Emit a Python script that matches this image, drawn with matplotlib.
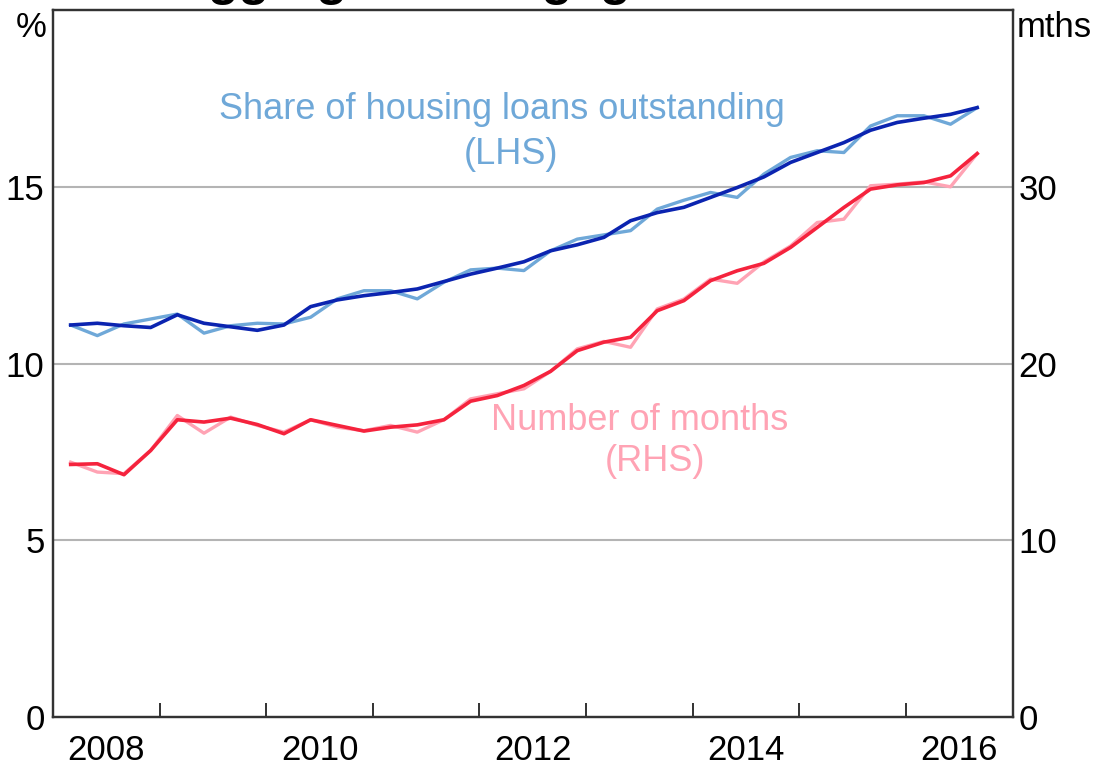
import numpy as np
import matplotlib
matplotlib.use("Agg")
import matplotlib.pyplot as plt

plt.rcParams['font.family'] = ['Liberation Sans', 'DejaVu Sans']

# quarterly observations, Mar 2008 .. Sep 2016
dates = 2008 + 2 / 12 + 0.25 * np.arange(35)

share_raw = [11.09, 10.79, 11.12, 11.26, 11.40, 10.86, 11.07, 11.14, 11.12, 11.31,
             11.83, 12.06, 12.06, 11.83, 12.30, 12.65, 12.70, 12.63, 13.19, 13.52,
             13.64, 13.76, 14.37, 14.62, 14.84, 14.70, 15.36, 15.83, 16.02, 15.97,
             16.72, 17.01, 17.01, 16.77, 17.24]
share_sa = [11.09, 11.14, 11.07, 11.02, 11.38, 11.14, 11.04, 10.94, 11.09, 11.61,
            11.80, 11.92, 12.01, 12.11, 12.32, 12.53, 12.70, 12.88, 13.19, 13.36,
            13.57, 14.04, 14.27, 14.42, 14.70, 14.98, 15.28, 15.69, 15.97, 16.25,
            16.60, 16.82, 16.94, 17.05, 17.24]
months_raw = [14.42, 13.86, 13.77, 15.08, 17.06, 16.06, 16.97, 16.50, 16.12, 16.82,
              16.40, 16.20, 16.50, 16.12, 16.82, 18.00, 18.29, 18.57, 19.56, 20.83,
              21.25, 20.92, 23.09, 23.65, 24.78, 24.54, 25.75, 26.65, 27.98, 28.17,
              30.06, 30.15, 30.28, 30.00, 31.88]
months_sa = [14.29, 14.33, 13.71, 15.08, 16.82, 16.69, 16.91, 16.55, 16.03, 16.82,
             16.50, 16.18, 16.40, 16.53, 16.82, 17.87, 18.19, 18.76, 19.56, 20.73,
             21.21, 21.49, 22.99, 23.56, 24.69, 25.25, 25.67, 26.57, 27.70, 28.83,
             29.87, 30.11, 30.24, 30.62, 31.88]

lhs_ticks = [0, 5, 10, 15]
rhs_ticks = [0, 10, 20, 30]
year_ticks = list(range(2009, 2017))
label_years = [2008, 2010, 2012, 2014, 2016]

light_blue = '#6fa8d8'
dark_blue = '#0b24b0'
pink = '#ffa3b4'
red = '#f5233d'

fig = plt.figure(figsize=(11.02, 7.74), dpi=100)
ax = fig.add_axes([0.048, 0.0736, 0.871, 0.9134])
ax2 = ax.twinx()

ax.set_xlim(2008, 2017)
ax.set_ylim(0, 20)
ax2.set_ylim(0, 40)

for y in [5, 10, 15]:
    ax.axhline(y, color='#b4b4b4', lw=1.5, zorder=0)

ax.plot(dates, share_raw, color=light_blue, lw=2.4, zorder=2)
ax.plot(dates, share_sa, color=dark_blue, lw=2.6, zorder=3)
ax2.plot(dates, months_raw, color=pink, lw=2.4, zorder=2)
ax2.plot(dates, months_sa, color=red, lw=2.6, zorder=3)

# year boundaries as inward ticks, labels centred on the year
ax.set_xticks(year_ticks)
ax.set_xticklabels([])
ax.set_xticks([y + 0.5 for y in label_years], minor=True)
ax.set_xticklabels([str(y) for y in label_years], minor=True)
ax.tick_params(axis='x', which='major', direction='in', length=10, width=1.3, color='#222222')
ax.tick_params(axis='x', which='minor', length=0, pad=12, labelsize=25)

ax.set_yticks(lhs_ticks)
ax.tick_params(axis='y', length=0, pad=6, labelsize=25)
ax2.set_yticks(rhs_ticks)
ax2.tick_params(axis='y', length=0, pad=4, labelsize=25)

for a in (ax, ax2):
    for s in a.spines.values():
        s.set_linewidth(1.6)
        s.set_color('#333333')

ax.text(0.468, 0.859, 'Share of housing loans outstanding', transform=ax.transAxes,
        ha='center', va='center', fontsize=26, color=light_blue)
ax.text(0.477, 0.795, '(LHS)', transform=ax.transAxes,
        ha='center', va='center', fontsize=26, color=light_blue)
ax.text(0.611, 0.420, 'Number of months', transform=ax.transAxes,
        ha='center', va='center', fontsize=26, color=pink)
ax.text(0.627, 0.361, '(RHS)', transform=ax.transAxes,
        ha='center', va='center', fontsize=26, color=pink)

fig.text(0.028, 0.965, '%', ha='center', va='center', fontsize=25)
fig.text(0.957, 0.965, 'mths', ha='center', va='center', fontsize=25)

# chart title, cut off by the top edge of the image (only descenders show)
fig.text(0.156, 1.007, 'Aggregate Mortgage Buffers', ha='left', va='baseline',
         fontsize=36, fontweight='bold')

fig.savefig('out.png', dpi=100)
